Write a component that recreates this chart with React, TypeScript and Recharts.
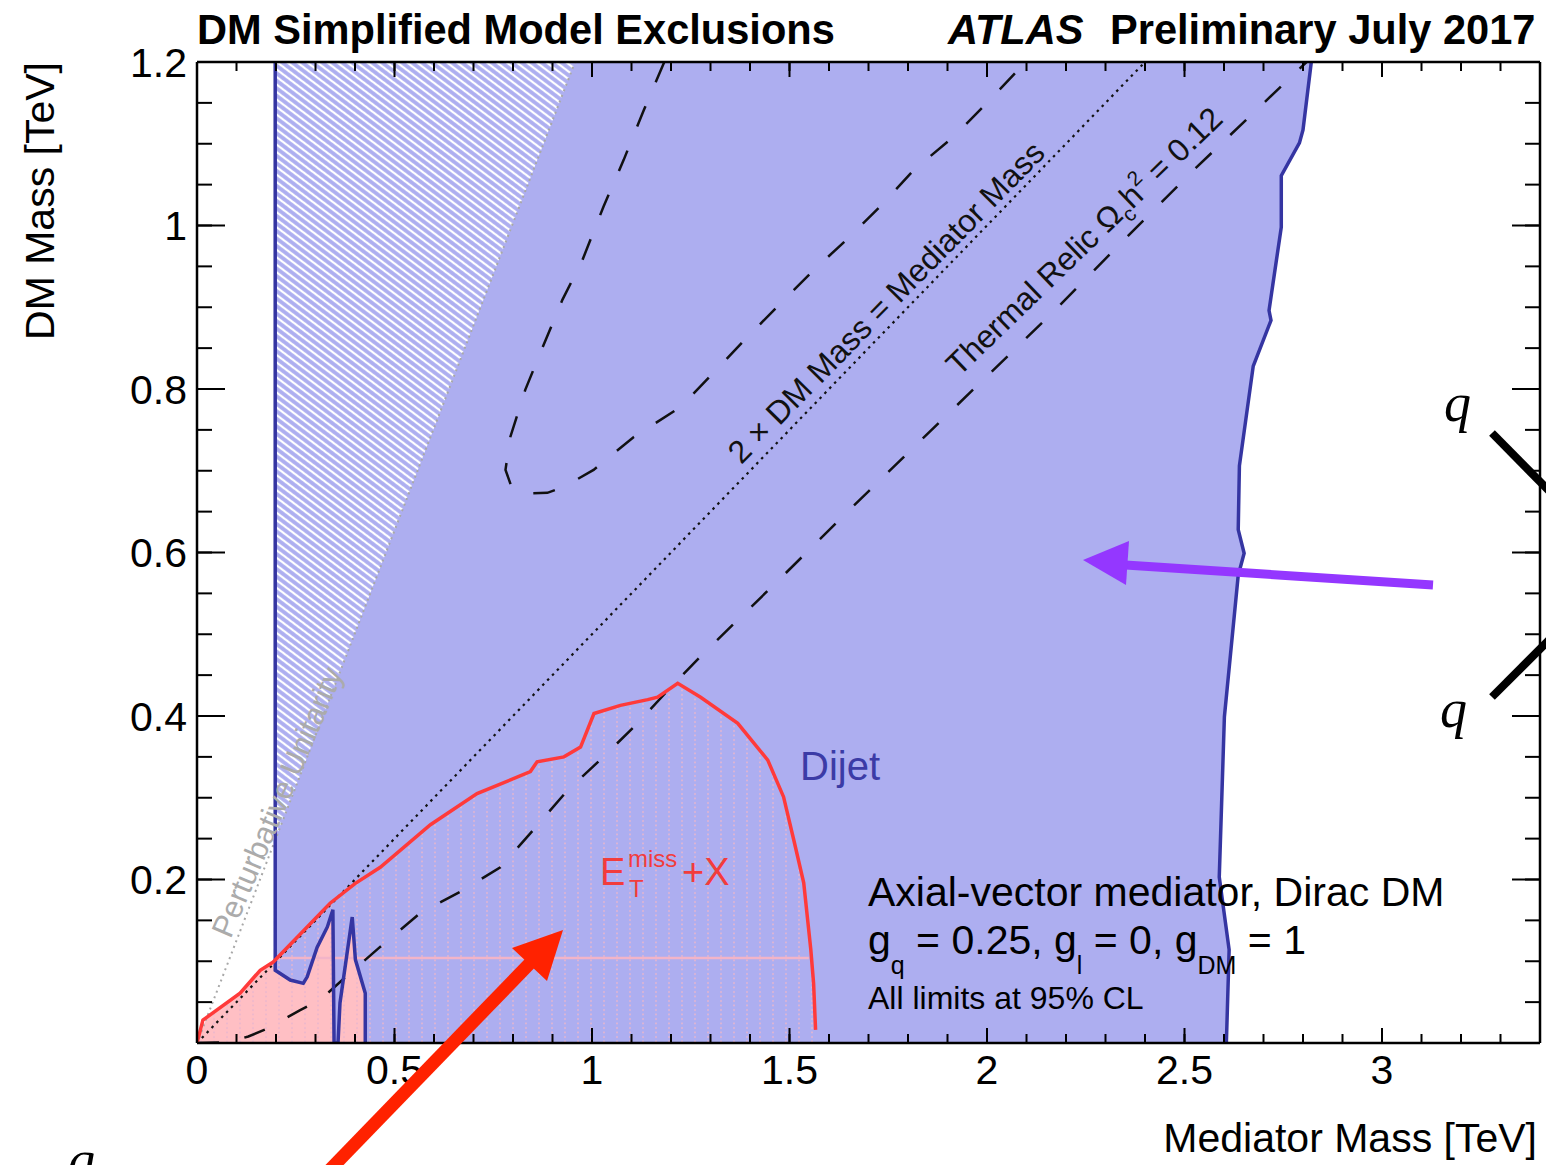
import React from 'react';
import { ComposedChart, Area, Line, XAxis, YAxis } from 'recharts';

type P = { x: number; y: number };

const FONT = "'Liberation Sans', Arial, Helvetica, sans-serif";

// ---- axis ticks ----
const X_MAJOR_TICKS = [0, 0.5, 1, 1.5, 2, 2.5, 3];
const X_TICK_LABELS = ['0', '0.5', '1', '1.5', '2', '2.5', '3'];
const X_MINOR_TICKS = Array.from({ length: 35 }, (_, i) => i / 10);
const Y_MAJOR_TICKS = [0, 0.2, 0.4, 0.6, 0.8, 1.0, 1.2];
const Y_TICK_LABELS = ['', '0.2', '0.4', '0.6', '0.8', '1', '1.2'];
const Y_MINOR_TICKS = Array.from({ length: 25 }, (_, i) => i / 20);

// ---- dijet exclusion contour (mediator mass, DM mass) in TeV ----
const DIJET_RIGHT: P[] = [
  { x: 2.606, y: 0 }, { x: 2.613, y: 0.114 }, { x: 2.588, y: 0.203 }, { x: 2.601, y: 0.399 },
  { x: 2.636, y: 0.572 }, { x: 2.651, y: 0.599 }, { x: 2.636, y: 0.628 }, { x: 2.639, y: 0.706 },
  { x: 2.674, y: 0.828 }, { x: 2.719, y: 0.884 }, { x: 2.714, y: 0.896 }, { x: 2.745, y: 0.998 },
  { x: 2.745, y: 1.061 }, { x: 2.791, y: 1.101 }, { x: 2.8, y: 1.117 }, { x: 2.821, y: 1.2 },
];
const DIJET_LEFT: P[] = [
  { x: 0.198, y: 1.2 }, { x: 0.198, y: 0.089 }, { x: 0.236, y: 0.077 }, { x: 0.269, y: 0.073 },
  { x: 0.279, y: 0.081 }, { x: 0.304, y: 0.117 }, { x: 0.33, y: 0.142 }, { x: 0.344, y: 0.163 },
  { x: 0.347, y: 0 }, { x: 0.357, y: 0 }, { x: 0.362, y: 0.049 }, { x: 0.393, y: 0.154 },
  { x: 0.401, y: 0.102 }, { x: 0.426, y: 0.061 }, { x: 0.426, y: 0 },
];
const DIJET_REGION: P[] = [...DIJET_RIGHT, ...DIJET_LEFT];

// ---- ETmiss+X exclusion contour ----
const ETMISS_LIMIT: P[] = [
  { x: 0, y: 0 }, { x: 0.015, y: 0.028 }, { x: 0.109, y: 0.061 }, { x: 0.16, y: 0.089 },
  { x: 0.193, y: 0.099 }, { x: 0.337, y: 0.171 }, { x: 0.4, y: 0.195 }, { x: 0.464, y: 0.215 },
  { x: 0.591, y: 0.267 }, { x: 0.709, y: 0.305 }, { x: 0.844, y: 0.332 }, { x: 0.861, y: 0.344 },
  { x: 0.929, y: 0.35 }, { x: 0.971, y: 0.362 }, { x: 1.005, y: 0.403 }, { x: 1.072, y: 0.413 },
  { x: 1.141, y: 0.42 }, { x: 1.166, y: 0.423 }, { x: 1.217, y: 0.44 }, { x: 1.275, y: 0.423 },
  { x: 1.369, y: 0.391 }, { x: 1.445, y: 0.346 }, { x: 1.485, y: 0.301 }, { x: 1.511, y: 0.248 },
  { x: 1.536, y: 0.196 }, { x: 1.554, y: 0.114 }, { x: 1.561, y: 0.073 }, { x: 1.566, y: 0.016 },
];
const ETMISS_EDGE: P[] = [{ x: 0.198, y: 0.104 }, { x: 1.549, y: 0.104 }];

// ---- reference lines ----
const UNITARITY: P[] = [{ x: 0, y: 0 }, { x: 0.957, y: 1.2 }];
const TWO_DM: P[] = [{ x: 0, y: 0 }, { x: 2.4, y: 1.2 }];
const RELIC_LOWER: P[] = [
  { x: 0, y: 0 }, { x: 0.08, y: 0.001 }, { x: 0.13, y: 0.008 }, { x: 0.18, y: 0.018 },
  { x: 0.26, y: 0.04 }, { x: 0.31, y: 0.052 }, { x: 0.37, y: 0.078 }, { x: 0.46, y: 0.116 },
  { x: 0.565, y: 0.159 }, { x: 0.67, y: 0.186 }, { x: 0.768, y: 0.215 }, { x: 0.852, y: 0.261 },
  { x: 0.938, y: 0.309 }, { x: 1.029, y: 0.35 }, { x: 1.115, y: 0.391 }, { x: 1.199, y: 0.435 },
  { x: 1.283, y: 0.477 }, { x: 1.47, y: 0.565 }, { x: 1.66, y: 0.656 }, { x: 1.815, y: 0.729 },
  { x: 1.99, y: 0.811 }, { x: 2.165, y: 0.893 }, { x: 2.34, y: 0.979 }, { x: 2.515, y: 1.064 },
  { x: 2.69, y: 1.145 }, { x: 2.809, y: 1.2 },
];
const RELIC_LOOP: P[] = [
  { x: 1.183, y: 1.2 }, { x: 1.131, y: 1.141 }, { x: 1.08, y: 1.08 }, { x: 1.029, y: 1.023 },
  { x: 0.976, y: 0.958 }, { x: 0.925, y: 0.909 }, { x: 0.875, y: 0.851 }, { x: 0.831, y: 0.799 },
  { x: 0.793, y: 0.741 }, { x: 0.781, y: 0.701 }, { x: 0.795, y: 0.682 }, { x: 0.83, y: 0.672 },
  { x: 0.887, y: 0.673 }, { x: 0.928, y: 0.68 }, { x: 1.004, y: 0.701 }, { x: 1.105, y: 0.741 },
  { x: 1.224, y: 0.778 }, { x: 1.308, y: 0.82 }, { x: 1.394, y: 0.864 }, { x: 1.478, y: 0.905 },
  { x: 1.554, y: 0.942 }, { x: 1.643, y: 0.982 }, { x: 1.729, y: 1.023 }, { x: 1.815, y: 1.068 },
  { x: 1.914, y: 1.108 }, { x: 2.0, y: 1.15 }, { x: 2.086, y: 1.194 }, { x: 2.095, y: 1.2 },
];

const BLUE_FILL = '#adaef0';
const BLUE_LINE = '#3535a2';
const PINK_FILL = '#ffbfc4';
const RED_LINE = '#ff3a3a';

const common = {
  xAxisId: 'x',
  yAxisId: 'y',
  isAnimationActive: false,
  dot: false,
  activeDot: false,
  legendType: 'none' as const,
  type: 'linear' as const,
  dataKey: 'y',
};

const NoLabel = () => <g />;
const xCommon = { type: 'number' as const, dataKey: 'x', domain: [0, 3.4], allowDataOverflow: true, interval: 0 as const };
const yCommon = { type: 'number' as const, dataKey: 'y', domain: [0, 1.2], allowDataOverflow: true, interval: 0 as const };
const frameLine = { stroke: '#000', strokeWidth: 2.5 };
const tickLn = { stroke: '#000', strokeWidth: 2 };
const tickOnly = { tick: NoLabel, tickFormatter: () => '', tickLine: tickLn };

export default function App() {
  return (
    <div style={{ position: 'absolute', left: 0, top: 0, width: 1546, height: 1165, background: '#fff', overflow: 'hidden' }}>
      <ComposedChart width={1546} height={1165} margin={{ top: 62, right: 6, bottom: 0, left: 0 }}>
        <defs>
          <pattern id="hatch" patternUnits="userSpaceOnUse" width="8" height="6" patternTransform="rotate(37)">
            <line x1="0" y1="3" x2="8" y2="3" stroke="#ffffff" strokeWidth="2.2" />
          </pattern>
          <pattern id="dots" patternUnits="userSpaceOnUse" width="13" height="4.5">
            <rect x="5" y="1.2" width="2" height="1.6" fill="#e9b6cd" fillOpacity="0.85" />
          </pattern>
        </defs>

        <Area {...common} data={ETMISS_LIMIT} baseValue={0} fill={PINK_FILL} fillOpacity={1} stroke="none" />
        <Area {...common} data={DIJET_REGION} baseValue={0} fill={BLUE_FILL} fillOpacity={1} stroke="none" />
        <Area {...common} data={ETMISS_LIMIT} baseValue={0} fill="url(#dots)" fillOpacity={1} stroke="none" />
        <Area {...common} data={UNITARITY} baseValue={1.2} fill="url(#hatch)" fillOpacity={1} stroke="none" />

        <Line {...common} data={ETMISS_EDGE} stroke="#f2b4c8" strokeWidth={2.5} />
        <Line {...common} data={UNITARITY} stroke="#a8a8a8" strokeWidth={2} strokeDasharray="2 4" />
        <Line {...common} data={TWO_DM} stroke="#111" strokeWidth={2.2} strokeDasharray="2.5 4.5" />
        <Line {...common} data={RELIC_LOWER} stroke="#111" strokeWidth={2.5} strokeDasharray="22 26" />
        <Line {...common} data={RELIC_LOOP} stroke="#111" strokeWidth={2.5} strokeDasharray="22 26" />
        <Line {...common} data={DIJET_LEFT} stroke={BLUE_LINE} strokeWidth={3.5} />
        <Line {...common} data={DIJET_RIGHT} stroke={BLUE_LINE} strokeWidth={3.5} />
        <Line {...common} data={ETMISS_LIMIT} stroke={RED_LINE} strokeWidth={3.5} />

        {/* label axes */}
        <XAxis {...xCommon} xAxisId="x" orientation="bottom" height={122} ticks={X_MAJOR_TICKS}
          tickFormatter={(v: number) => X_TICK_LABELS[X_MAJOR_TICKS.indexOf(v)] ?? ''}
          axisLine={false} tickLine={false} tickSize={6} tickMargin={6}
          tick={{ fontSize: 41, fill: '#000', fontFamily: FONT }} />
        <YAxis {...yCommon} yAxisId="y" orientation="left" width={197} ticks={Y_MAJOR_TICKS}
          tickFormatter={(v: number) => Y_TICK_LABELS[Y_MAJOR_TICKS.indexOf(v)] ?? ''}
          axisLine={false} tickLine={false} tickSize={6} tickMargin={4}
          tick={{ fontSize: 41, fill: '#000', fontFamily: FONT }} />

        {/* inward ticks + frame */}
        <XAxis {...xCommon} {...tickOnly} xAxisId="bMaj" orientation="bottom" mirror height={1} ticks={X_MAJOR_TICKS} tickSize={15} axisLine={frameLine} />
        <XAxis {...xCommon} {...tickOnly} xAxisId="bMin" orientation="bottom" mirror height={1} ticks={X_MINOR_TICKS} tickSize={8} axisLine={false} />
        <XAxis {...xCommon} {...tickOnly} xAxisId="tMaj" orientation="top" mirror height={1} ticks={X_MAJOR_TICKS} tickSize={15} axisLine={frameLine} />
        <XAxis {...xCommon} {...tickOnly} xAxisId="tMin" orientation="top" mirror height={1} ticks={X_MINOR_TICKS} tickSize={8} axisLine={false} />
        <YAxis {...yCommon} {...tickOnly} yAxisId="lMaj" orientation="left" mirror width={1} ticks={Y_MAJOR_TICKS} tickSize={28} axisLine={frameLine} />
        <YAxis {...yCommon} {...tickOnly} yAxisId="lMin" orientation="left" mirror width={1} ticks={Y_MINOR_TICKS} tickSize={14} axisLine={false} />
        <YAxis {...yCommon} {...tickOnly} yAxisId="rMaj" orientation="right" mirror width={1} ticks={Y_MAJOR_TICKS} tickSize={28} axisLine={frameLine} />
        <YAxis {...yCommon} {...tickOnly} yAxisId="rMin" orientation="right" mirror width={1} ticks={Y_MINOR_TICKS} tickSize={14} axisLine={false} />
      </ComposedChart>

      <svg width={1546} height={1165} style={{ position: 'absolute', left: 0, top: 0, pointerEvents: 'none' }} fontFamily={FONT}>
        {/* title */}
        <text x={197} y={44} fontSize={41.6} fontWeight="bold" fill="#000">DM Simplified Model Exclusions</text>
        <text x={948} y={44} fontSize={41.6} fontWeight="bold" fontStyle="italic" fill="#000">ATLAS</text>
        <text x={1110} y={44} fontSize={41.6} fontWeight="bold" fill="#000">Preliminary July 2017</text>

        {/* axis titles */}
        <text transform="translate(54,62) rotate(-90)" textAnchor="end" fontSize={41} fill="#000">DM Mass [TeV]</text>
        <text x={1537} y={1152} textAnchor="end" fontSize={41} fill="#000">Mediator Mass [TeV]</text>

        {/* in-plot labels */}
        <text x={800} y={780} fontSize={40} fill="#3b3ba6">Dijet</text>
        <text x={600} y={885} fontSize={38} fill="#f23c3c">E</text>
        <text x={628} y={867} fontSize={24} fill="#f23c3c">miss</text>
        <text x={629} y={897} fontSize={24} fill="#f23c3c">T</text>
        <text x={682} y={885} fontSize={38} fill="#f23c3c">+X</text>

        <text x={868} y={906} fontSize={41} fill="#000">Axial-vector mediator, Dirac DM</text>
        <text x={868} y={954} fontSize={41} fill="#000">
          g<tspan fontSize={25} dy={20}>q</tspan><tspan dy={-20}> = 0.25, g</tspan><tspan fontSize={25} dy={20}>l</tspan><tspan dy={-20}> = 0, g</tspan><tspan fontSize={25} dy={20}>DM</tspan><tspan dy={-20}> = 1</tspan>
        </text>
        <text x={868} y={1009} fontSize={32} fill="#000">All limits at 95% CL</text>

        <text transform="translate(886,302) rotate(-45.5)" textAnchor="middle" dy="0.35em" fontSize={32} fill="#111">2 × DM Mass = Mediator Mass</text>
        <text transform="translate(1084,241) rotate(-44)" textAnchor="middle" dy="0.35em" fontSize={32} fill="#111">
          Thermal Relic Ω<tspan fontSize={21} dy={8}>c</tspan><tspan dy={-8}>h</tspan><tspan fontSize={21} dy={-14}>2</tspan><tspan dy={14}> = 0.12</tspan>
        </text>
        <text transform="translate(277,802) rotate(-67)" textAnchor="middle" dy="0.35em" fontSize={31} fill="#ababab">Perturbative Unitarity</text>

        {/* slide annotations */}
        <line x1={1492} y1={433} x2={1562} y2={504} stroke="#000" strokeWidth={8} />
        <line x1={1492} y1={697} x2={1562} y2={627} stroke="#000" strokeWidth={8} />
        <text x={1444} y={421} fontSize={54} fontStyle="italic" fontFamily="'Liberation Serif', 'DejaVu Serif', serif" fill="#000">q</text>
        <text x={1440} y={727} fontSize={54} fontStyle="italic" fontFamily="'Liberation Serif', 'DejaVu Serif', serif" fill="#000">q</text>
        <text x={68} y={1178} fontSize={54} fontStyle="italic" fontFamily="'Liberation Serif', 'DejaVu Serif', serif" fill="#000">q</text>

        <line x1={1433} y1={585} x2={1110} y2={564} stroke="#9437ff" strokeWidth={9} />
        <polygon points="1083,560 1129,541 1126,585" fill="#9437ff" />

        <line x1={320} y1={1180} x2={535} y2={958} stroke="#ff2200" strokeWidth={13} />
        <polygon points="563,930 512,948 547,981" fill="#ff2200" />
      </svg>
    </div>
  );
}
